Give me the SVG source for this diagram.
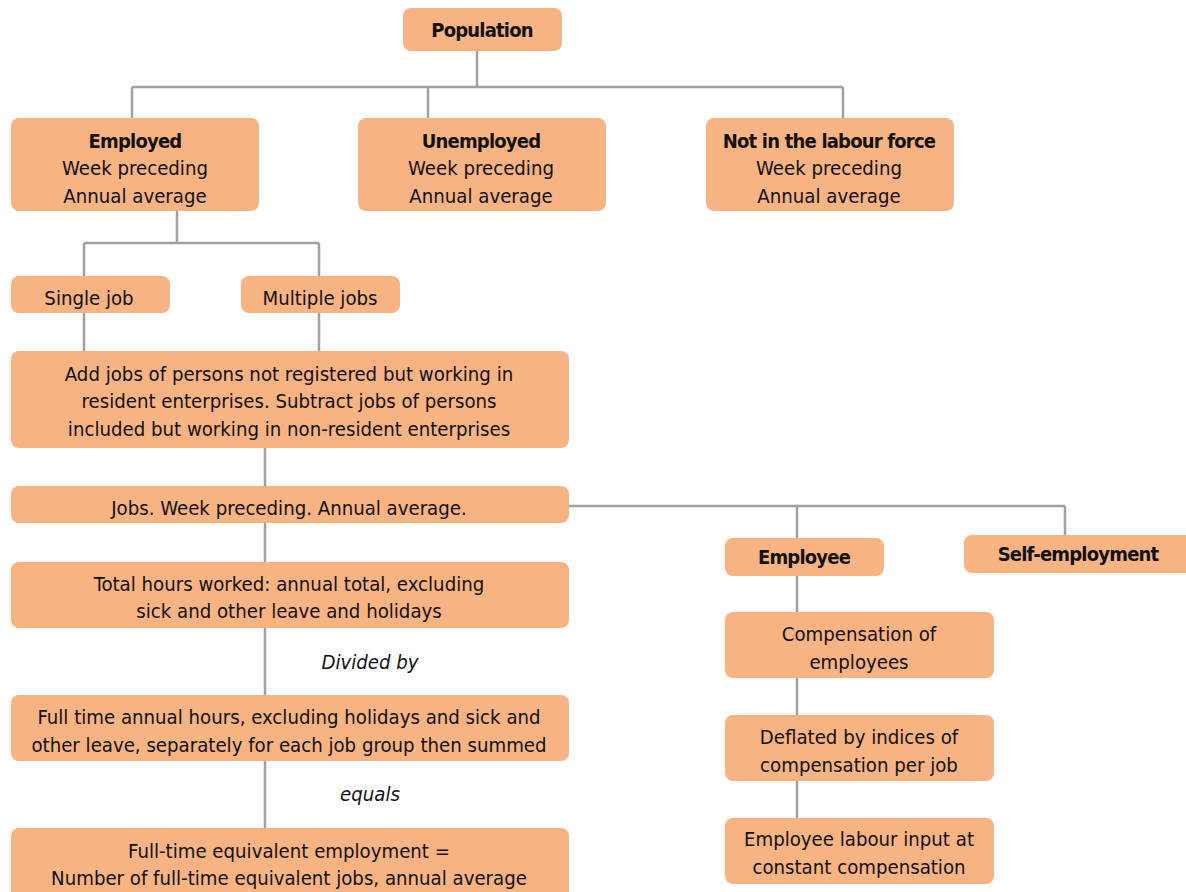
<svg xmlns="http://www.w3.org/2000/svg" width="1186" height="892" viewBox="0 0 1186 892">
<style>
.n{fill:#F8B383;}
.t{font-family:"DejaVu Sans Condensed","Liberation Sans Narrow","Liberation Sans",sans-serif;font-stretch:condensed;font-size:20.2px;fill:#111;text-anchor:middle;}
.b{font-weight:bold;font-size:20px;letter-spacing:-0.8px;}
.i{font-style:italic;}
.c{fill:none;stroke:#a0a0a0;stroke-width:2.5;}
</style>
<rect width="1186" height="892" fill="#fff"/>
<g id="connectors">
<path class="c" d="M477 51V87M132 87H843M132 87V118M428 87V118M843 87V118"/>
<path class="c" d="M177 211V243M84 243H319M84 243V276M319 243V276"/>
<path class="c" d="M84 313V351M319 313V351"/>
<path class="c" d="M265 448V486M265 523V562M265 628V695M265 761V828"/>
<path class="c" d="M569 506H1065M797 506V538M1065 506V535"/>
<path class="c" d="M797 576V612M797 678V715M797 781V818"/>
</g>
<g id="population"><rect class="n" x="403" y="8" width="159" height="43" rx="8"/><text class="t b" x="482" y="37">Population</text></g>
<g id="employed"><rect class="n" x="11" y="118" width="248" height="93" rx="8"/><text class="t b" x="135" y="148">Employed</text><text class="t" x="135" y="175">Week preceding</text><text class="t" x="135" y="203">Annual average</text></g>
<g id="unemployed"><rect class="n" x="358" y="118" width="248" height="93" rx="8"/><text class="t b" x="481" y="148">Unemployed</text><text class="t" x="481" y="175">Week preceding</text><text class="t" x="481" y="203">Annual average</text></g>
<g id="notlabour"><rect class="n" x="706" y="118" width="248" height="93" rx="8"/><text class="t b" x="829" y="148">Not in the labour force</text><text class="t" x="829" y="175">Week preceding</text><text class="t" x="829" y="203">Annual average</text></g>
<g id="single"><rect class="n" x="11" y="276" width="159" height="37" rx="8"/><text class="t" x="89" y="305">Single job</text></g>
<g id="multiple"><rect class="n" x="241" y="276" width="159" height="37" rx="8"/><text class="t" x="320" y="305">Multiple jobs</text></g>
<g id="addjobs"><rect class="n" x="11" y="351" width="558" height="97" rx="8"/><text class="t" x="289" y="381">Add jobs of persons not registered but working in</text><text class="t" x="289" y="408">resident enterprises. Subtract jobs of persons</text><text class="t" x="289" y="436">included but working in non-resident enterprises</text></g>
<g id="jobs"><rect class="n" x="11" y="486" width="558" height="37" rx="8"/><text class="t" x="289" y="515">Jobs. Week preceding. Annual average.</text></g>
<g id="employee"><rect class="n" x="725" y="538" width="159" height="38" rx="8"/><text class="t b" x="804" y="564">Employee</text></g>
<g id="selfemp"><rect class="n" x="964" y="535" width="240" height="38" rx="8"/><text class="t b" x="1078" y="561">Self-employment</text></g>
<g id="totalhours"><rect class="n" x="11" y="562" width="558" height="66" rx="8"/><text class="t" x="289" y="591">Total hours worked: annual total, excluding</text><text class="t" x="289" y="618">sick and other leave and holidays</text></g>
<g id="dividedby"><text class="t i" x="370" y="669">Divided by</text></g>
<g id="fulltime"><rect class="n" x="11" y="695" width="558" height="66" rx="8"/><text class="t" x="289" y="724">Full time annual hours, excluding holidays and sick and</text><text class="t" x="289" y="752">other leave, separately for each job group then summed</text></g>
<g id="equals"><text class="t i" x="370" y="801">equals</text></g>
<g id="fte"><rect class="n" x="11" y="828" width="558" height="80" rx="8"/><text class="t" x="289" y="858">Full-time equivalent employment =</text><text class="t" x="289" y="885">Number of full-time equivalent jobs, annual average</text></g>
<g id="compensation"><rect class="n" x="725" y="612" width="269" height="66" rx="8"/><text class="t" x="859" y="641">Compensation of</text><text class="t" x="859" y="669">employees</text></g>
<g id="deflated"><rect class="n" x="725" y="715" width="269" height="66" rx="8"/><text class="t" x="859" y="744">Deflated by indices of</text><text class="t" x="859" y="772">compensation per job</text></g>
<g id="labourinput"><rect class="n" x="725" y="818" width="269" height="66" rx="8"/><text class="t" x="859" y="846">Employee labour input at</text><text class="t" x="859" y="874">constant compensation</text></g>
</svg>
